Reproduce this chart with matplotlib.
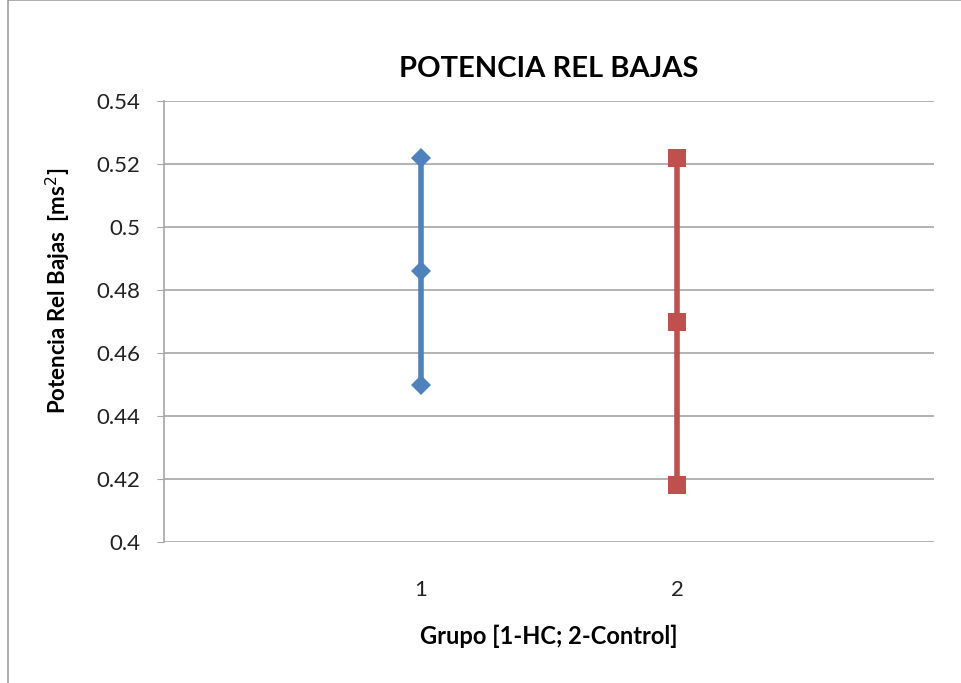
import matplotlib.pyplot as plt
from matplotlib.patches import Rectangle

# Data
groups = [1, 2]
hc_values = [0.450, 0.486, 0.522]       # group 1 (HC): low, mid, high
control_values = [0.418, 0.470, 0.522]  # group 2 (Control): low, mid, high
y_ticks = [0.4, 0.42, 0.44, 0.46, 0.48, 0.5, 0.52, 0.54]
y_tick_labels = ["0.4", "0.42", "0.44", "0.46", "0.48", "0.5", "0.52", "0.54"]

plt.rcParams['font.family'] = ['Lato', 'DejaVu Sans']

fig = plt.figure(figsize=(9.61, 6.83), dpi=100)
ax = fig.add_axes([164 / 961, 1 - 542 / 683, 770 / 961, 441 / 683])

# outer chart border
fig.patches.append(Rectangle((8 / 961, -0.01), 1.0, 1.01, transform=fig.transFigure,
                             fill=False, edgecolor='#a0a0a0', linewidth=1.2))

ax.plot([groups[0]] * len(hc_values), hc_values, color='#4f81bd', linewidth=4,
        marker='D', markersize=10, markeredgewidth=0, solid_capstyle='butt')
ax.plot([groups[1]] * len(control_values), control_values, color='#c0504d', linewidth=4,
        marker='s', markersize=13, markeredgewidth=0, solid_capstyle='butt')

ax.set_xlim(0, 3)
ax.set_ylim(0.4, 0.54)
ax.set_xticks(groups)
ax.set_xticklabels([str(g) for g in groups])
ax.set_yticks(y_ticks)
ax.set_yticklabels(y_tick_labels)

ax.grid(axis='y', color='#a6a6a6', linewidth=1.2)
ax.set_axisbelow(True)
for side in ['top', 'right', 'bottom']:
    ax.spines[side].set_visible(False)
ax.spines['left'].set_color('#a6a6a6')
ax.spines['left'].set_linewidth(1.2)
ax.tick_params(axis='y', length=5, color='#a6a6a6', labelsize=16, pad=12, labelcolor='#222222')
ax.tick_params(axis='x', length=0, labelsize=16, pad=27, labelcolor='#222222')

ax.set_title("POTENCIA REL BAJAS", fontsize=21, fontweight='bold', pad=17)
ax.set_ylabel("Potencia Rel Bajas  [ms$^2$]", fontsize=16, fontweight='bold')
ax.yaxis.set_label_coords(-0.118, 0.57)
ax.set_xlabel("Grupo [1-HC; 2-Control]", fontsize=17, fontweight='bold', labelpad=18)

fig.savefig("out.png", dpi=100)
